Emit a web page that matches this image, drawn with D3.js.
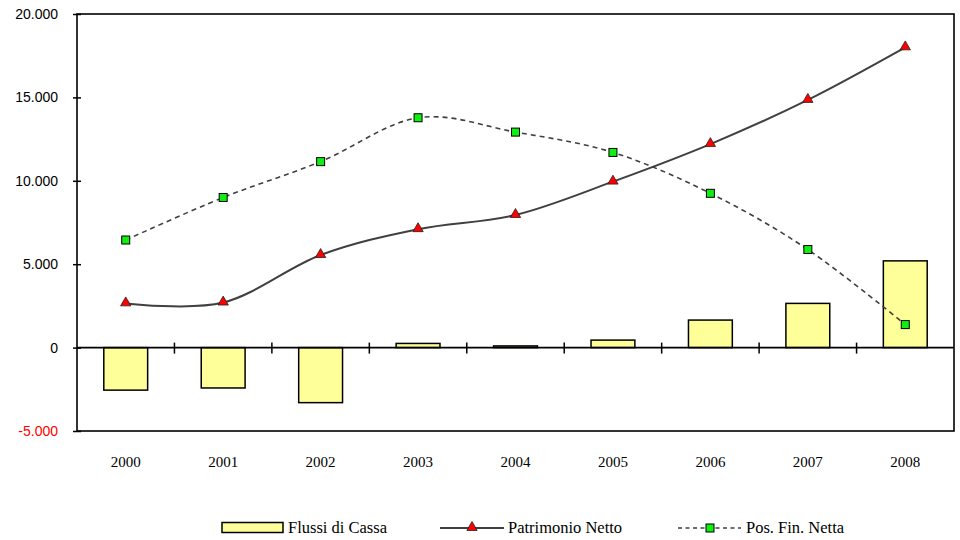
<!DOCTYPE html>
<html>
<head>
<meta charset="utf-8">
<script src="https://cdn.jsdelivr.net/npm/d3@7"></script>
<style>
  html, body { margin: 0; padding: 0; background: #ffffff; }
  svg { display: block; }
  .serif { font-family: "Liberation Serif", "Tinos", "Times New Roman", "DejaVu Serif", serif; }
</style>
</head>
<body>
<svg id="chart" width="960" height="540"></svg>
<script>
// ---- data ----
const categories = ["2000", "2001", "2002", "2003", "2004", "2005", "2006", "2007", "2008"];
const flussiDiCassa = [-2550, -2420, -3300, 250, 100, 450, 1650, 2650, 5200];
const patrimonioNetto = [2650, 2700, 5550, 7100, 7950, 9950, 12200, 14850, 18000];
const posFinNetta = [6450, 9000, 11150, 13780, 12920, 11700, 9250, 5880, 1380];
const yTicks = [-5000, 0, 5000, 10000, 15000, 20000];
const seriesNames = ["Flussi di Cassa", "Patrimonio Netto", "Pos. Fin. Netta"];

(function () {
// ---- layout ----
const svg = d3.select("#chart");
const pLeft = 77, pRight = 954, pTop = 14, pBottom = 431;

const x = d3.scaleBand().domain(categories).range([pLeft, pRight]).padding(0);
const y = d3.scaleLinear().domain([-5000, 20000]).range([pBottom, pTop]);

const itFmt = d3.formatLocale({ decimal: ",", thousands: ".", grouping: [3], currency: ["€", ""], minus: "-" }).format(",.0f");

const g = svg.append("g");

// bars
const barW = x.bandwidth() * 0.45;
g.selectAll("rect.bar").data(categories).enter().append("rect")
  .attr("class", "bar")
  .attr("x", d => x(d) + (x.bandwidth() - barW) / 2)
  .attr("width", barW)
  .attr("y", (d, i) => y(Math.max(0, flussiDiCassa[i])))
  .attr("height", (d, i) => Math.abs(y(flussiDiCassa[i]) - y(0)))
  .attr("fill", "#ffff99")
  .attr("stroke", "#000")
  .attr("stroke-width", 1.5);

// frame
g.append("rect")
  .attr("x", pLeft).attr("y", pTop)
  .attr("width", pRight - pLeft).attr("height", pBottom - pTop)
  .attr("fill", "none").attr("stroke", "#000").attr("stroke-width", 1.6);

// y axis
const yAxis = g.append("g").attr("transform", `translate(${pLeft},0)`)
  .call(d3.axisLeft(y).tickValues(yTicks).tickFormat(itFmt).tickSize(4).tickPadding(15));
yAxis.select(".domain").remove();
yAxis.selectAll(".tick line").attr("x1", -4).attr("x2", 4).attr("stroke", "#000").attr("stroke-width", 1.5);
yAxis.selectAll(".tick text")
  .attr("font-family", "'Liberation Sans', Arial, sans-serif")
  .attr("font-size", 14)
  .attr("fill", d => d < 0 ? "#ff0000" : "#000");

// zero line with category-boundary ticks
const xAxis = g.append("g").attr("transform", `translate(0,${y(0)})`)
  .call(d3.axisBottom(x).tickSize(0).tickFormat(""));
xAxis.select(".domain").attr("stroke", "#000").attr("stroke-width", 1.6).attr("d", `M${pLeft},0H${pRight}`);
xAxis.selectAll(".tick").remove();
const boundaries = categories.slice(1);
xAxis.selectAll("line.bt").data(boundaries).enter().append("line")
  .attr("class", "bt")
  .attr("x1", d => x(d)).attr("x2", d => x(d))
  .attr("y1", -5).attr("y2", 6)
  .attr("stroke", "#000").attr("stroke-width", 1.5);

// x labels
g.selectAll("text.xl").data(categories).enter().append("text")
  .attr("class", "xl serif")
  .attr("x", d => x(d) + x.bandwidth() / 2)
  .attr("y", 467)
  .attr("text-anchor", "middle")
  .attr("font-size", 15)
  .attr("fill", "#000")
  .text(d => d);

// lines
const cx = d => x(d) + x.bandwidth() / 2;
const lineGen = vals => d3.line()
  .x((d, i) => cx(categories[i]))
  .y((d) => y(d))
  .curve(d3.curveCardinal.tension(0))(vals);

g.append("path").attr("d", lineGen(patrimonioNetto))
  .attr("fill", "none").attr("stroke", "#404040").attr("stroke-width", 2);
g.append("path").attr("d", lineGen(posFinNetta))
  .attr("fill", "none").attr("stroke", "#404040").attr("stroke-width", 1.6)
  .attr("stroke-dasharray", "5,4");

// markers
const tri = d3.symbol().type(d3.symbolTriangle).size(46);
g.selectAll("path.tri").data(patrimonioNetto).enter().append("path")
  .attr("class", "tri")
  .attr("d", tri)
  .attr("transform", (d, i) => `translate(${cx(categories[i])},${y(d) - 0.5})`)
  .attr("fill", "#ff0000").attr("stroke", "#202020").attr("stroke-width", 0.8);

g.selectAll("rect.sq").data(posFinNetta).enter().append("rect")
  .attr("class", "sq")
  .attr("x", (d, i) => cx(categories[i]) - 4)
  .attr("y", d => y(d) - 4)
  .attr("width", 8).attr("height", 8)
  .attr("fill", "#11ee11").attr("stroke", "#000").attr("stroke-width", 1);

// legend
const lg = svg.append("g");
lg.append("rect").attr("x", 222).attr("y", 522.5).attr("width", 61).attr("height", 10)
  .attr("fill", "#ffff99").attr("stroke", "#000").attr("stroke-width", 1.5);
lg.append("text").attr("class", "serif").attr("x", 288).attr("y", 533).attr("font-size", 16.5).text(seriesNames[0]);

lg.append("line").attr("x1", 440).attr("x2", 504).attr("y1", 528).attr("y2", 528)
  .attr("stroke", "#404040").attr("stroke-width", 2);
lg.append("path").attr("d", tri).attr("transform", "translate(472,527.5)")
  .attr("fill", "#ff0000").attr("stroke", "#202020").attr("stroke-width", 0.8);
lg.append("text").attr("class", "serif").attr("x", 508).attr("y", 533).attr("font-size", 16.5).text(seriesNames[1]);

lg.append("line").attr("x1", 678).attr("x2", 741).attr("y1", 528).attr("y2", 528)
  .attr("stroke", "#404040").attr("stroke-width", 1.6).attr("stroke-dasharray", "4,3.5");
lg.append("rect").attr("x", 706).attr("y", 524).attr("width", 8).attr("height", 8)
  .attr("fill", "#11ee11").attr("stroke", "#000").attr("stroke-width", 1);
lg.append("text").attr("class", "serif").attr("x", 746).attr("y", 533).attr("font-size", 16.5).text(seriesNames[2]);
})();
</script>
</body>
</html>
